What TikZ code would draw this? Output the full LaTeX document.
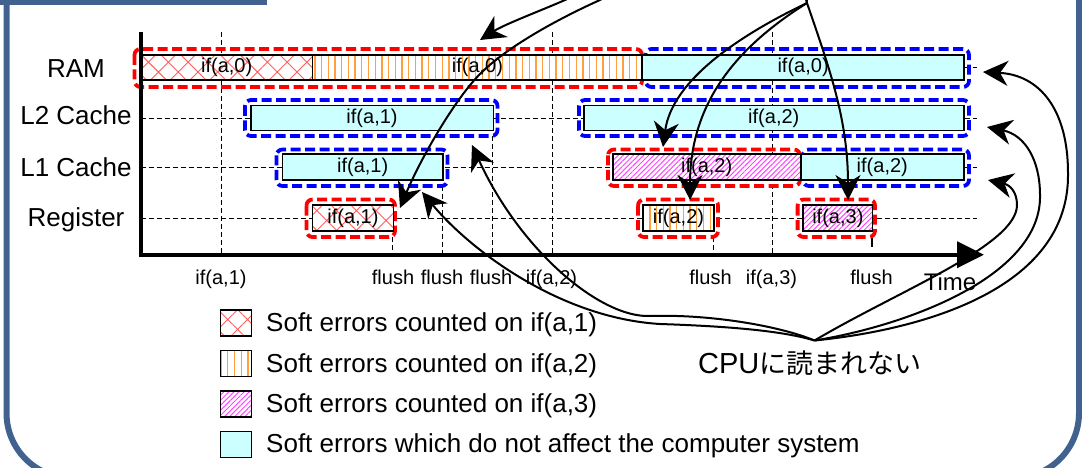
\documentclass[tikz,border=0pt]{standalone}
\usepackage{fontspec}
\setmainfont{Liberation Sans}
\newfontfamily\jpfont{Noto Sans CJK JP}
\usetikzlibrary{arrows.meta,patterns.meta}

\definecolor{framecol}{RGB}{65,97,143}
\definecolor{cyanfill}{RGB}{204,255,255}
\definecolor{hatchred}{RGB}{255,95,95}
\definecolor{stripeorange}{RGB}{255,160,64}
\definecolor{stripemag}{RGB}{255,70,255}
\definecolor{grpred}{RGB}{255,0,0}
\definecolor{grpblue}{RGB}{0,0,255}

\newcommand\fsz[1]{\fontsize{#1}{#1}\selectfont}

\begin{document}
\begin{tikzpicture}[x=1pt,y=-1pt,
  patA/.style={preaction={fill=white}, pattern={Hatch[angle=45,distance=14pt,line width=0.9pt]}, pattern color=hatchred},
  patB/.style={preaction={fill=white}, pattern={Lines[angle=90,distance=6.7pt,line width=1.3pt]}, pattern color=stripeorange},
  patC/.style={preaction={fill=white}, pattern={Lines[angle=45,distance=3.6pt,line width=1pt]}, pattern color=stripemag},
  patD/.style={fill=cyanfill},
  bar/.style={draw=black, line width=1.6pt, minimum height=25pt, inner sep=0pt, anchor=west, font=\fsz{20}},
  grp/.style={line width=3.8pt, dash pattern=on 10pt off 4.5pt, rounded corners=6pt},
  grpR/.style={grp, draw=grpred},
  grpB/.style={grp, draw=grpblue},
  gridline/.style={line width=0.9pt, dash pattern=on 5pt off 3pt},
  axisline/.style={line width=4pt, line join=miter, -{Triangle[length=27pt,width=26pt]}},
  conn/.style={line width=2pt, -{Stealth[length=25pt,width=25pt,inset=8pt]}},
  rowlab/.style={anchor=base, inner sep=0pt, font=\fsz{26}},
  ticklab/.style={anchor=base, inner sep=0pt, font=\fsz{20}},
  legbox/.style={draw=black, line width=1.3pt, minimum width=31pt, minimum height=26pt, inner sep=0pt},
  legtext/.style={anchor=base west, inner sep=0pt, font=\fsz{26}}
]
% page and clipping
\path[use as bounding box, fill=white] (0,0) rectangle (1082,468);
\clip (0,0) rectangle (1082,468);

% outer frame with its tab
\draw[framecol, line width=6pt, rounded corners=65pt] (6.5,-120) rectangle (1079,478);
\fill[framecol] (0,-20) rectangle (266.5,5);

% grid
\foreach \y in {67.5,118,167,218} \draw[gridline] (140.5,\y) -- (977,\y);
\draw[gridline] (221,32) -- (221,254);
\draw[gridline] (392.6,237) -- (392.6,254);
\draw[gridline] (442,186) -- (442,254);
\draw[gridline] (492.5,136) -- (492.5,254);
\draw[gridline] (552.7,32) -- (552.7,254);
\draw[gridline] (713,237) -- (713,254);
\draw[gridline] (772.4,32) -- (772.4,254);
\draw[line width=1.5pt] (872,238) -- (872,247);

% group outlines
\draw[grpR] (134.5,49) rectangle (642,87);
\draw[grpB] (645.5,49) rectangle (969,87);
\draw[grpB] (245,100) rectangle (497.5,136);
\draw[grpB] (579,100) rectangle (969,136);
\draw[grpB] (276.5,149.5) rectangle (447.5,186);
\draw[grpR] (608,149.5) rectangle (800,186);
\draw[grpB] (803,149.5) rectangle (969,186);
\draw[grpR] (306.5,199.5) rectangle (395,237);
\draw[grpR] (638,199.5) rectangle (718,237);
\draw[grpR] (797.6,199.5) rectangle (875,237);

% bars
\node[bar, patA, minimum width=171.5pt] (ramA) at (140.5,67.5) {if(a,0)};
\node[bar, patB, minimum width=329.6pt] (ramB) at (312,67.5) {if(a,0)};
\node[bar, patD, minimum width=321.4pt] (ramC) at (641.6,67.5) {if(a,0)};
\node[bar, patD, minimum width=242.5pt] (ltwoA) at (250,118) {if(a,1)};
\node[bar, patD, minimum width=380pt] (ltwoB) at (583,118) {if(a,2)};
\node[bar, patD, minimum width=160.3pt, minimum height=26pt] (loneA) at (281.7,167) {if(a,1)};
\node[bar, patC, minimum width=187.7pt, minimum height=26pt] (loneB) at (612.3,167) {if(a,2)};
\node[bar, patD, minimum width=163pt, minimum height=26pt] (loneC) at (800,167) {if(a,2)};
\node[bar, patA, minimum width=81pt, minimum height=26pt] (regA) at (311.6,218) {if(a,1)};
\node[bar, patB, minimum width=70.8pt, minimum height=26pt] (regB) at (642.3,218) {if(a,2)};
\node[bar, patC, minimum width=69.3pt, minimum height=26pt] (regC) at (802.4,218) {if(a,3)};

% axes
\coordinate (ytop) at (140.5,32);
\coordinate (corner) at (140.5,254.7);
\coordinate (xend) at (984,254.7);
\draw[axisline] (ytop) -- (corner) -- (xend);

% row labels
\node[rowlab] (lram) at (76,77.3) {RAM};
\node[rowlab] (ltwo) at (76,124.5) {L2 Cache};
\node[rowlab] (lone) at (76,176.7) {L1 Cache};
\node[rowlab] (lreg) at (76,226.5) {Register};

% time labels
\node[ticklab] (t1) at (221,284) {if(a,1)};
\node[ticklab] (t2) at (393,284) {flush};
\node[ticklab] (t3) at (442,284) {flush};
\node[ticklab] (t4) at (491,284) {flush};
\node[ticklab] (t5) at (551.5,284) {if(a,2)};
\node[ticklab] (t6) at (710.5,284) {flush};
\node[ticklab] (t7) at (771.5,284) {if(a,3)};
\node[ticklab] (t8) at (871.5,284) {flush};
\node[anchor=base, inner sep=0pt, font=\fsz{24}] (timelab) at (950,290) {Time};

% legend
\node[legbox, patA] (legA) at (236,323) {};
\node[legbox, patB] (legB) at (236,363.7) {};
\node[legbox, patC] (legC) at (236,403.9) {};
\node[legbox, patD] (legD) at (236,444.2) {};
\node[legtext] (legAt) at (266,331.7) {Soft errors counted on if(a,1)};
\node[legtext] (legBt) at (266,372.1) {Soft errors counted on if(a,2)};
\node[legtext] (legCt) at (266,412.5) {Soft errors counted on if(a,3)};
\node[legtext] (legDt) at (266,452.9) {Soft errors which do not affect the computer system};

% caption of the lower fan
\node[anchor=base west, inner sep=0pt, font=\fsz{29}] (cpu) at (698,373.3) {CPU\jpfont\fsz{27}に読まれない};

% sources and targets of the curved arrows
\coordinate (topsrc) at (807,3);
\coordinate (botsrc) at (814.5,340.5);
\coordinate (tipRamB) at (480,40);
\coordinate (tipRegA) at (400,208);
\coordinate (tipLoneB) at (663,147);
\coordinate (tipRegB) at (690,200);
\coordinate (tipRegC) at (848,200);
\coordinate (tipRegAr) at (422,192);
\coordinate (tipLtwoA) at (472,145);
\coordinate (tipRamC) at (983,72);
\coordinate (tipLtwoB) at (987,127);
\coordinate (tipLoneC) at (988,180);

% upper fan
\draw[conn] (topsrc) .. controls (790,-70) and (625,-28) .. (565,0) .. controls (545,9) and (505,24) .. (tipRamB);
\draw[conn] (topsrc) .. controls (800,-90) and (660,-30) .. (600,0) .. controls (560,18) and (510,45) .. (482,72) .. controls (455,98) and (420,160) .. (tipRegA);
\draw[conn] (topsrc) .. controls (740,35) and (672,80) .. (tipLoneB);
\draw[conn] (topsrc) .. controls (740,45) and (690,100) .. (tipRegB);
\draw[conn] (topsrc) .. controls (830,70) and (848,120) .. (tipRegC);

% lower fan
\draw[conn] (botsrc) .. controls (780,330) and (720,326) .. (660,324) .. controls (560,318) and (470,250) .. (tipRegAr);
\draw[conn] (botsrc) .. controls (780,326) and (710,314) .. (650,316) .. controls (600,318) and (520,250) .. (tipLtwoA);
\draw[conn] (botsrc) .. controls (920,330) and (1070,290) .. (1068,173) .. controls (1068,110) and (1040,75) .. (tipRamC);
\draw[conn] (botsrc) .. controls (910,325) and (1042,275) .. (1040,195) .. controls (1040,160) and (1025,135) .. (tipLtwoB);
\draw[conn] (botsrc) .. controls (900,290) and (1017,245) .. (1017,205) .. controls (1017,192) and (1010,185) .. (tipLoneC);
\end{tikzpicture}
\end{document}
